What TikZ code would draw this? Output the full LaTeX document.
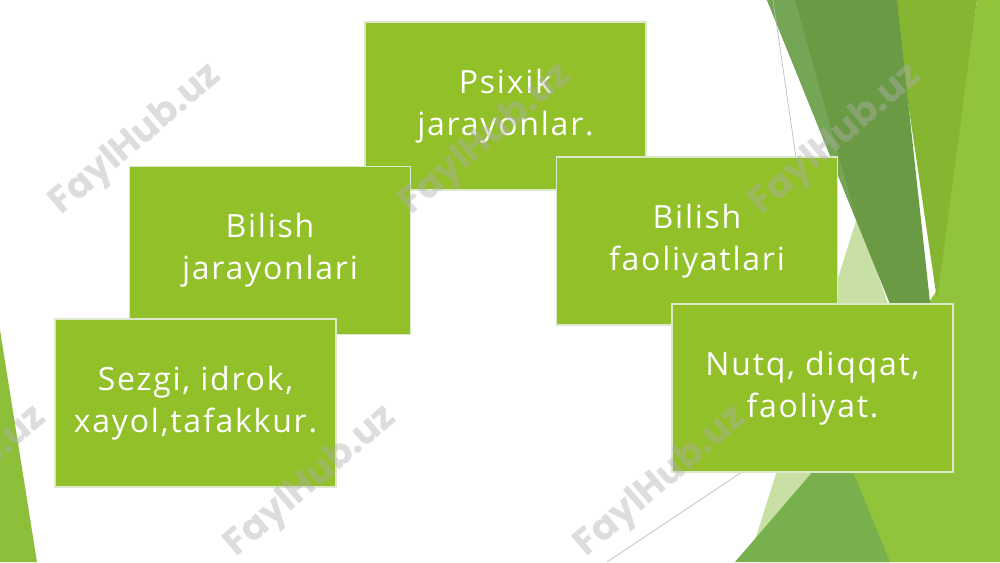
\documentclass[tikz,border=0pt]{standalone}
\usepackage{fontspec}
\setmainfont{Open Sans}
\newfontfamily\boxfont{Open Sans}[LetterSpace=5.5]
\newfontfamily\wmfont{Poppins}
\definecolor{boxgreen}{RGB}{146,192,40}
\definecolor{boxline}{RGB}{220,232,205}
\definecolor{darkband}{RGB}{106,155,68}
\definecolor{darkbandlt}{RGB}{116,166,86}
\definecolor{oliveband}{RGB}{134,181,50}
\definecolor{brightband}{RGB}{146,196,59}
\definecolor{paleband}{RGB}{200,224,164}
\definecolor{midband}{RGB}{120,176,78}
\definecolor{stripband}{RGB}{142,191,59}
\definecolor{thinline}{RGB}{185,185,185}
\definecolor{wmgray}{RGB}{175,175,175}
\tikzset{
  box/.style={draw=boxline, line width=1.2pt, fill=boxgreen, text=white,
    minimum width=281pt, minimum height=168pt, inner sep=0pt, align=center,
    font=\boxfont\fontsize{32pt}{42pt}\selectfont},
  wm/.style={font=\wmfont\bfseries\fontsize{37pt}{37pt}\selectfont,
    text=wmgray, text opacity=0.42, rotate=40.5, anchor=base, inner sep=0pt},
  deco/.style={line width=0.6pt, draw=thinline}
}
\begin{document}
\begin{tikzpicture}[x=1pt,y=-1pt]
\useasboundingbox (0,0) rectangle (1000,562);
\fill[white] (0,0) rectangle (1000,562);
% decorative facets
\fill[paleband] (858,215) -- (930,430) -- (755,540) -- cycle;
\fill[brightband] (977,0) -- (1000,0) -- (1000,562) -- (760,562) -- (840,440) -- (937,290) -- cycle;
\fill[oliveband] (893,0) -- (977,0) -- (937,300) -- cycle;
\fill[darkband] (767,0) -- (897,0) -- (945,440) -- cycle;
\fill[darkbandlt] (767,0) -- (795,0) -- (855,215) -- cycle;
\fill[midband] (735,562) -- (840,440) -- (890,562) -- cycle;
\fill[stripband] (0,330) -- (0,562) -- (37,562) -- cycle;
\draw[deco] (773,0) -- (800,185);
\draw[deco] (607,562) -- (745,470);
% boxes
\node[box] (b1) at (505.5,106) {Psixik\\jarayonlar.};
\node[box] (b2) at (270,250.5) {Bilish\\jarayonlari};
\node[box] (b3) at (195.5,403) {Sezgi, idrok,\\xayol,tafakkur.};
\node[box] (b4) at (697,241) {Bilish\\faoliyatlari};
\node[box] (b5) at (812.5,388) {Nutq, diqqat,\\faoliyat.};
% watermarks
\node[wm] (w1) at (142,147) {FaylHub.uz};
\node[wm] (w2) at (492,147) {FaylHub.uz};
\node[wm] (w3) at (842,147) {FaylHub.uz};
\node[wm] (w4) at (-33,489) {FaylHub.uz};
\node[wm] (w5) at (317,489) {FaylHub.uz};
\node[wm] (w6) at (667,489) {FaylHub.uz};
\end{tikzpicture}
\end{document}
